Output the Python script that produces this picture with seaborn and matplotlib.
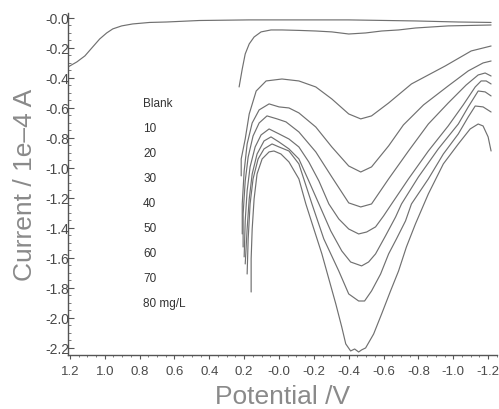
import matplotlib
matplotlib.use("Agg")
import matplotlib.pyplot as plt
import numpy as np
import pandas as pd
import seaborn as sns
from matplotlib.ticker import MultipleLocator

# Potential (V) and current (1e-4 A) for each voltammetric scan
potential_0 = [1.211, 1.160, 1.114, 1.069, 1.029, 0.989, 0.954, 0.903, 0.840, 0.743, 0.646, 0.457,
               0.171, -0.114, -0.400, -0.783, -1.029, -1.217]
current_0 = [-0.327, -0.293, -0.253, -0.193, -0.140, -0.100, -0.073, -0.053, -0.040, -0.030, -0.027, -0.017,
             -0.013, -0.013, -0.013, -0.020, -0.027, -0.030]

potential_1 = [0.229, 0.211, 0.194, 0.171, 0.143, 0.103, 0.046, -0.017, -0.114, -0.211, -0.303, -0.400,
               -0.497, -0.589, -0.686, -0.783, -0.971, -1.217]
current_1 = [-0.460, -0.340, -0.240, -0.173, -0.127, -0.093, -0.080, -0.080, -0.083, -0.087, -0.093, -0.107,
             -0.100, -0.087, -0.080, -0.067, -0.053, -0.047]

potential_2 = [0.217, 0.217, 0.194, 0.171, 0.131, 0.074, -0.017, -0.114, -0.211, -0.303, -0.400, -0.469,
               -0.531, -0.629, -0.760, -0.954, -1.103, -1.217]
current_2 = [-1.053, -0.940, -0.807, -0.640, -0.487, -0.420, -0.407, -0.420, -0.460, -0.540, -0.640, -0.673,
             -0.653, -0.567, -0.440, -0.320, -0.220, -0.187]

potential_3 = [0.211, 0.211, 0.200, 0.183, 0.154, 0.114, 0.057, 0.000, -0.057, -0.114, -0.211, -0.303,
               -0.400, -0.469, -0.531, -0.629, -0.714, -0.829, -0.971, -1.086, -1.171, -1.217]
current_3 = [-1.440, -1.240, -1.020, -0.840, -0.700, -0.613, -0.573, -0.593, -0.600, -0.633, -0.727, -0.860,
             -0.987, -1.027, -0.993, -0.853, -0.713, -0.580, -0.453, -0.353, -0.300, -0.287]

potential_4 = [0.206, 0.206, 0.194, 0.177, 0.149, 0.114, 0.069, 0.011, -0.040, -0.114, -0.211, -0.303,
               -0.400, -0.469, -0.531, -0.629, -0.743, -0.857, -0.971, -1.074, -1.143, -1.183, -1.217]
current_4 = [-1.527, -1.307, -1.087, -0.927, -0.787, -0.700, -0.653, -0.673, -0.693, -0.760, -0.893, -1.060,
             -1.233, -1.260, -1.240, -1.073, -0.887, -0.707, -0.567, -0.447, -0.380, -0.367, -0.387]

potential_5 = [0.200, 0.194, 0.183, 0.166, 0.137, 0.103, 0.057, 0.000, -0.057, -0.114, -0.171, -0.229,
               -0.286, -0.343, -0.400, -0.457, -0.503, -0.554, -0.600, -0.646, -0.743, -0.857, -0.971,
               -1.057, -1.126, -1.160, -1.189, -1.217]
current_5 = [-1.593, -1.353, -1.153, -0.993, -0.860, -0.780, -0.740, -0.773, -0.807, -0.860, -0.960, -1.087,
             -1.240, -1.340, -1.407, -1.440, -1.427, -1.393, -1.320, -1.240, -1.073, -0.887, -0.720,
             -0.580, -0.460, -0.420, -0.420, -0.440]

potential_6 = [0.194, 0.183, 0.171, 0.154, 0.126, 0.086, 0.046, 0.000, -0.057, -0.114, -0.171, -0.229,
               -0.297, -0.360, -0.411, -0.474, -0.514, -0.554, -0.611, -0.669, -0.703, -0.800, -0.914,
               -1.029, -1.086, -1.143, -1.183, -1.217]
current_6 = [-1.640, -1.407, -1.207, -1.040, -0.907, -0.820, -0.793, -0.827, -0.873, -0.940, -1.087, -1.240,
             -1.420, -1.553, -1.627, -1.653, -1.627, -1.573, -1.453, -1.327, -1.240, -1.060, -0.873,
             -0.707, -0.593, -0.487, -0.493, -0.520]

potential_7 = [0.183, 0.177, 0.166, 0.149, 0.120, 0.086, 0.040, 0.000, -0.057, -0.114, -0.189, -0.257,
               -0.343, -0.400, -0.457, -0.491, -0.531, -0.583, -0.629, -0.674, -0.726, -0.760, -0.857,
               -0.943, -1.029, -1.086, -1.126, -1.171, -1.217]
current_7 = [-1.707, -1.473, -1.240, -1.073, -0.940, -0.873, -0.840, -0.860, -0.887, -0.973, -1.240, -1.473,
             -1.687, -1.840, -1.887, -1.887, -1.820, -1.707, -1.573, -1.473, -1.353, -1.240, -1.073,
             -0.907, -0.773, -0.660, -0.587, -0.593, -0.627]

potential_8 = [0.160, 0.160, 0.154, 0.143, 0.126, 0.097, 0.057, 0.029, -0.011, -0.057, -0.114, -0.154,
               -0.200, -0.246, -0.286, -0.326, -0.360, -0.383, -0.411, -0.434, -0.457, -0.474, -0.497,
               -0.543, -0.589, -0.640, -0.686, -0.731, -0.783, -0.857, -0.943, -1.029, -1.097, -1.143,
               -1.171, -1.200, -1.217]
current_8 = [-1.827, -1.607, -1.407, -1.207, -1.040, -0.940, -0.893, -0.887, -0.907, -0.960, -1.073, -1.240,
             -1.407, -1.573, -1.740, -1.907, -2.060, -2.173, -2.220, -2.207, -2.227, -2.213, -2.200,
             -2.107, -1.973, -1.820, -1.687, -1.527, -1.373, -1.173, -0.973, -0.840, -0.740, -0.707,
             -0.720, -0.793, -0.887]

concentration_labels = ["Blank", "10", "20", "30", "40", "50", "60", "70", "80 mg/L"]

x_ticks = [1.2, 1.0, 0.8, 0.6, 0.4, 0.2, 0.0, -0.2, -0.4, -0.6, -0.8, -1.0, -1.2]
x_tick_labels = ["1.2", "1.0", "0.8", "0.6", "0.4", "0.2", "-0.0", "-0.2", "-0.4", "-0.6",
                 "-0.8", "-1.0", "-1.2"]
y_ticks = [0.0, -0.2, -0.4, -0.6, -0.8, -1.0, -1.2, -1.4, -1.6, -1.8, -2.0, -2.2]
y_tick_labels = ["-0.0", "-0.2", "-0.4", "-0.6", "-0.8", "-1.0", "-1.2", "-1.4", "-1.6", "-1.8",
                 "-2.0", "-2.2"]

potentials = [potential_0, potential_1, potential_2, potential_3, potential_4,
              potential_5, potential_6, potential_7, potential_8]
currents = [current_0, current_1, current_2, current_3, current_4,
            current_5, current_6, current_7, current_8]

frames = [pd.DataFrame({"potential": p, "current": c, "scan": i})
          for i, (p, c) in enumerate(zip(potentials, currents))]
df = pd.concat(frames, ignore_index=True)

sns.set_style("ticks")
plt.rcParams["font.family"] = ["Liberation Sans", "DejaVu Sans"]

fig = plt.figure(figsize=(4.99, 4.10), dpi=100)
ax = fig.add_axes([68 / 499, 54 / 410, 429 / 499, 342 / 410])

sns.lineplot(data=df, x="potential", y="current", units="scan", estimator=None,
             sort=False, color="#707070", linewidth=0.85, ax=ax)

ax.set_xlim(1.211, -1.251)
ax.set_ylim(-2.247, 0.033)

ax.set_xticks(x_ticks)
ax.set_xticklabels(x_tick_labels)
ax.set_yticks(y_ticks)
ax.set_yticklabels(y_tick_labels)
ax.xaxis.set_minor_locator(MultipleLocator(0.05))
ax.yaxis.set_minor_locator(MultipleLocator(0.05))

for side in ("top", "right"):
    ax.spines[side].set_visible(False)
for side in ("left", "bottom"):
    ax.spines[side].set_color("#555555")
    ax.spines[side].set_linewidth(1.0)

ax.tick_params(axis="y", which="major", direction="in", length=4, width=0.8,
               color="#555555", labelsize=10, labelcolor="#4a4a4a", pad=-1)
ax.tick_params(axis="y", which="minor", direction="in", length=2, width=0.6, color="#666666")
ax.tick_params(axis="x", which="major", direction="out", length=3, width=0.8,
               color="#555555", labelsize=9.5, labelcolor="#4a4a4a", pad=4)
ax.tick_params(axis="x", which="minor", direction="out", length=1.5, width=0.6, color="#666666")

ax.set_xlabel("Potential /V", fontsize=19, color="#8a8a8a")
ax.set_ylabel("Current / 1e\u20134 A", fontsize=19, color="#8a8a8a")
ax.xaxis.set_label_coords(0.5, -0.085)
ax.yaxis.set_label_coords(-0.072, 0.5)

for i, label in enumerate(concentration_labels):
    ax.text(0.175, 0.737 - i * 0.0731, label, transform=ax.transAxes,
            fontsize=8.5, color="#333333", ha="left", va="center")

fig.savefig("out.png", dpi=100)
